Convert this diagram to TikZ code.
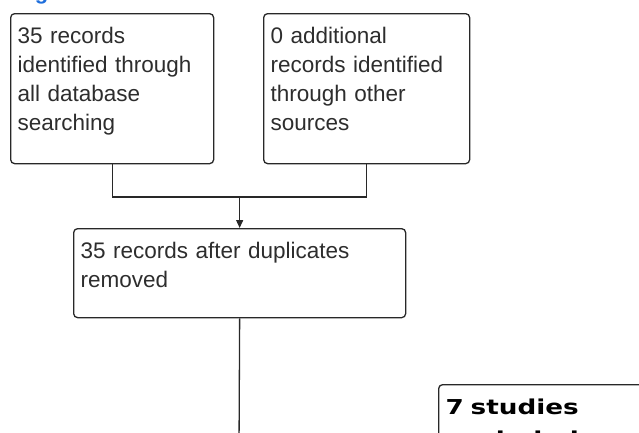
\documentclass[tikz,border=0pt]{standalone}
\usepackage{fontspec}
\setmainfont{Liberation Sans}
\newfontfamily\studyfont[FakeStretch=1.28]{DejaVu Sans}
\usetikzlibrary{arrows.meta,positioning}
\definecolor{figblue}{RGB}{30,110,220}
\definecolor{boxline}{RGB}{40,40,40}
\definecolor{boxtext}{RGB}{45,45,45}

\begin{document}
\begin{tikzpicture}[x=1pt, y=-1pt,
        box/.style={rectangle, draw=boxline, line width=1.3pt, rounded corners=4pt, anchor=north west, align=left, inner xsep=7pt, inner ysep=0pt, text height=30pt, font=\fontsize{22.5}{29}\selectfont, text=boxtext},
        arrow/.style={-{Triangle[length=8pt,width=7pt]}, draw=boxline, line width=1.3pt},
        line/.style={draw=boxline, line width=1.3pt}
    ]
        \useasboundingbox (0,0) rectangle (639,432);
        \clip (0,0) rectangle (639,432);

        % Caption (cut off at the top)
        \node[anchor=base west, inner sep=0pt, text=figblue, font=\bfseries\fontsize{22}{26}\selectfont] (caption) at (15,-0.5) {Figure 1};

        % Identification
        \node[box, minimum width=203pt, text width=189pt, text depth=120pt] (dbs) at (10,13) {35 records\\identified through\\all database\\searching};
        \node[box, minimum width=206pt, text width=192pt, text depth=120pt] (other) at (263,13) {0 additional\\records identified\\through other\\sources};

        % Screening
        \node[box, minimum width=332pt, text width=318pt, text depth=59pt] (dedup) at (73,228) {35 records after duplicates\\removed};

        % Excluded
        \node[box, minimum width=300pt, text width=286pt, text depth=120pt, text=black, font=\studyfont\bfseries\fontsize{20.5}{32}\selectfont] (excluded) at (438,384) {7 studies\\excluded};

        % Connections
        \coordinate[above=31pt of dedup.north] (merge);
        \coordinate (next) at (239,450);
        \draw[line] (dbs.south) |- (merge) -| (other.south);
        \draw[arrow] (merge) -- (dedup.north);
        \draw[line] (dedup.south) -- (next);

    \end{tikzpicture}
\end{document}
